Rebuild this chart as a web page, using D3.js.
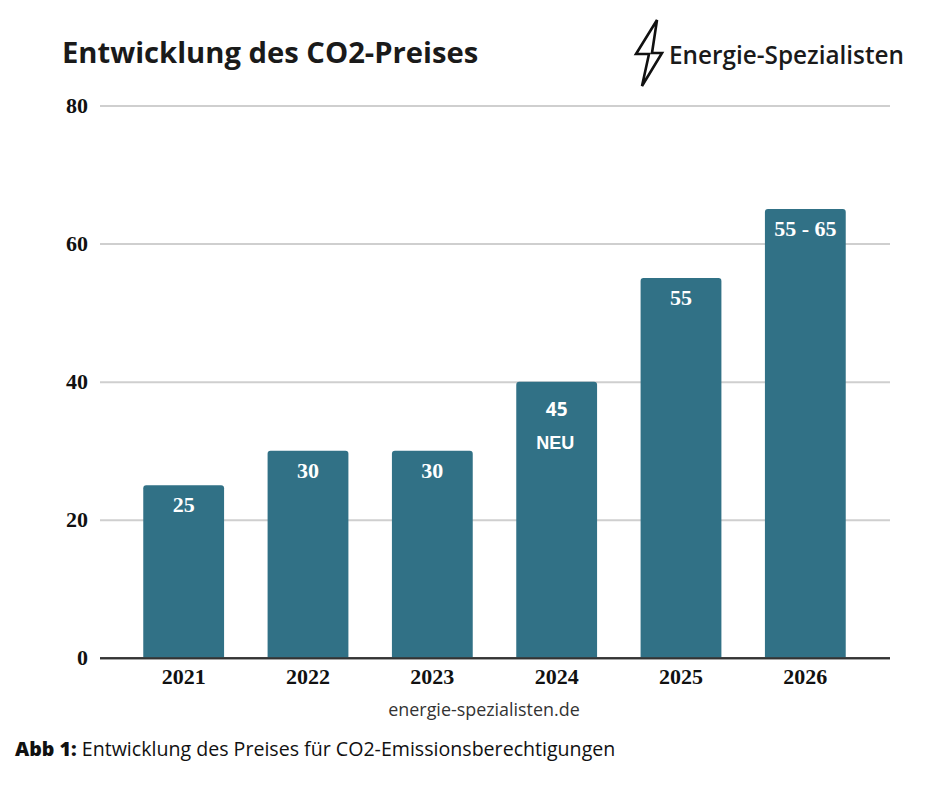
<!DOCTYPE html>
<html>
<head>
<meta charset="utf-8">
<script src="https://d3js.org/d3.v7.min.js"></script>
<style>
  html, body { margin: 0; padding: 0; background: #fff; }
  svg { display: block; }
  .serif { font-family: "Liberation Serif", serif; font-weight: 700; }
  .sans { font-family: "Open Sans", "Noto Sans", sans-serif; }
</style>
</head>
<body>
<div id="chart"></div>
<script>
const years = ['2021', '2022', '2023', '2024', '2025', '2026'];
const barHeights = [25, 30, 30, 40, 55, 65];
const barLabels = ['25', '30', '30', '45', '55', '55 - 65'];
const yTicks = [0, 20, 40, 60, 80];

const width = 939;
const height = 790;
const barColor = '#317186';

const svg = d3.select('#chart').append('svg')
    .attr('width', width)
    .attr('height', height);

const y = d3.scaleLinear().domain([0, 80]).range([657.8, 105.5]);
const x = d3.scaleBand()
    .domain(years)
    .range([121.5, 867.5])
    .paddingInner(0.35)
    .paddingOuter(0.175);

// gridlines + left labels
const yAxisGroup = svg.append('g')
    .attr('transform', 'translate(100, 0)')
    .call(d3.axisLeft(y).tickValues(yTicks).tickSize(-790).tickPadding(12));
yAxisGroup.select('.domain').remove();
yAxisGroup.selectAll('line')
    .attr('stroke', d => d === 0 ? '#333' : '#cfcfcf')
    .attr('stroke-width', 2);
yAxisGroup.selectAll('text')
    .attr('class', 'serif')
    .attr('font-size', 22)
    .attr('fill', '#111');

// bars
svg.append('g').selectAll('path')
    .data(years)
    .join('path')
    .attr('fill', barColor)
    .attr('d', (d, i) => {
        const x0 = x(d), w = x.bandwidth(), top = y(barHeights[i]), r = 3;
        return `M${x0},${y(0)}V${top + r}Q${x0},${top} ${x0 + r},${top}H${x0 + w - r}Q${x0 + w},${top} ${x0 + w},${top + r}V${y(0)}Z`;
    });

// baseline redrawn over the bars
svg.append('line')
    .attr('x1', 100).attr('x2', 890)
    .attr('y1', y(0) + 0.5).attr('y2', y(0) + 0.5)
    .attr('stroke', '#333').attr('stroke-width', 2);

// bar labels
svg.append('g').selectAll('text')
    .data(years)
    .join('text')
    .attr('class', d => d === '2024' ? 'sans' : 'serif')
    .attr('x', d => x(d) + x.bandwidth() / 2)
    .attr('y', (d, i) => d === '2024' ? 416 : y(barHeights[i]) + 27)
    .attr('text-anchor', 'middle')
    .attr('font-size', d => d === '2024' ? 19 : 22)
    .attr('font-weight', 700)
    .attr('fill', '#fff')
    .text((d, i) => barLabels[i]);

svg.append('text')
    .attr('x', x('2024') + x.bandwidth() / 2 - 1.5)
    .attr('y', 449)
    .attr('text-anchor', 'middle')
    .attr('font-family', '"Liberation Sans", sans-serif')
    .attr('font-size', 18)
    .attr('font-weight', 700)
    .attr('fill', '#fff')
    .text('NEU');

// year labels
const xAxisGroup = svg.append('g')
    .attr('transform', `translate(0, ${y(0)})`)
    .call(d3.axisBottom(x).tickSize(0).tickPadding(11));
xAxisGroup.select('.domain').remove();
xAxisGroup.selectAll('text')
    .attr('class', 'serif')
    .attr('font-size', 22)
    .attr('fill', '#111');

// title
svg.append('text')
    .attr('class', 'sans')
    .attr('x', 62).attr('y', 63)
    .attr('font-size', 29.2)
    .attr('font-weight', 700)
    .attr('fill', '#1a1a1a')
    .text('Entwicklung des CO2-Preises');

// logo
svg.append('path')
    .attr('d', 'M657,20 L636,54 L649,54 L642,86 L662,53 L652,53 Z')
    .attr('fill', 'none')
    .attr('stroke', '#111')
    .attr('stroke-width', 2.6)
    .attr('stroke-linejoin', 'miter');
svg.append('text')
    .attr('class', 'sans')
    .attr('x', 669).attr('y', 64)
    .attr('font-size', 24.3)
    .attr('font-weight', 600)
    .attr('fill', '#1a1a1a')
    .text('Energie-Spezialisten');

// source + caption
svg.append('text')
    .attr('class', 'sans')
    .attr('x', 484).attr('y', 716)
    .attr('text-anchor', 'middle')
    .attr('font-size', 17.9)
    .attr('fill', '#333')
    .text('energie-spezialisten.de');

const caption = svg.append('text')
    .attr('class', 'sans')
    .attr('x', 15).attr('y', 756)
    .attr('font-size', 19.6)
    .attr('fill', '#111');
caption.append('tspan').attr('font-weight', 800).text('Abb 1: ');
caption.append('tspan').text('Entwicklung des Preises für CO2-Emissionsberechtigungen');
</script>
</body>
</html>
